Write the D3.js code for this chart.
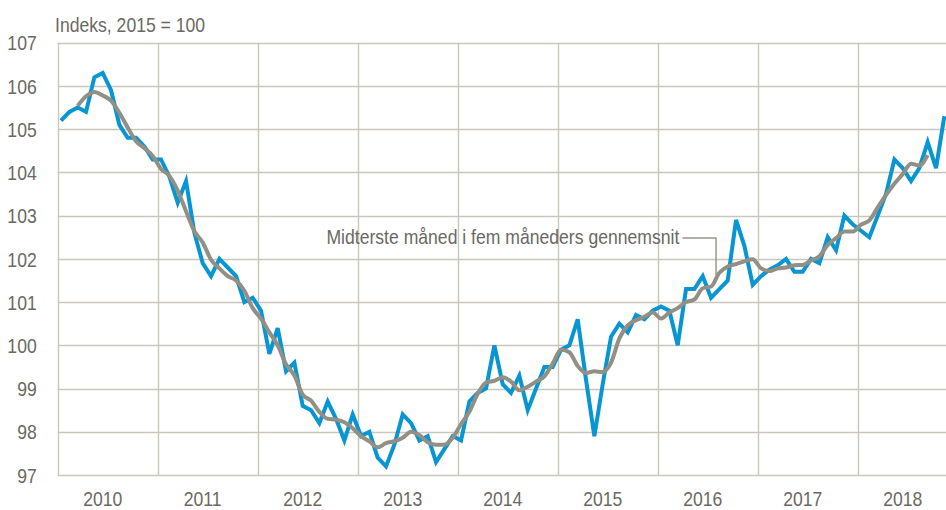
<!DOCTYPE html>
<html><head><meta charset="utf-8">
<script src="https://cdn.jsdelivr.net/npm/d3@7/dist/d3.min.js"></script>
<style>
html,body{margin:0;padding:0;background:#fff;overflow:hidden;}
svg text{font-family:'Liberation Sans',Arial,sans-serif;fill:#6b695f;}
</style></head><body>
<svg id="c" width="946" height="510"></svg>
<script>
// ---- data ----
const years = ["2010","2011","2012","2013","2014","2015","2016","2017","2018"];
const yTicks = [97,98,99,100,101,102,103,104,105,106,107];
const titleText = "Indeks, 2015 = 100";
const annotationText = "Midterste måned i fem måneders gennemsnit";
// monthly index, Jan 2010 - Nov 2018
const indexValues = [
  105.2,105.4,105.5,105.4,106.2,106.3,105.9,105.1,104.8,104.8,104.6,104.3,
  104.3,103.9,103.3,103.8,102.6,101.9,101.6,102.0,101.8,101.6,101.0,101.1,
  100.8,99.8,100.4,99.4,99.6,98.6,98.5,98.2,98.7,98.3,97.8,98.4,
  97.9,98.0,97.4,97.2,97.7,98.4,98.2,97.8,97.9,97.3,97.6,97.9,
  97.8,98.7,98.9,99.0,100.0,99.1,98.9,99.3,98.5,99.0,99.5,99.5,
  99.9,100.0,100.6,99.2,97.9,99.1,100.2,100.5,100.3,100.7,100.6,100.8,
  100.9,100.8,100.0,101.3,101.3,101.6,101.1,101.3,101.5,102.9,102.3,101.4,
  101.6,101.75,101.85,102.0,101.7,101.7,102.0,101.9,102.5,102.2,103.0,102.8,
  102.65,102.5,103.0,103.5,104.3,104.1,103.8,104.1,104.7,104.1,105.3
];
// five-month centred average, Mar 2010 - Sep 2018
const avgStart = 2;
const avgValues = [
  105.54,105.76,105.86,105.78,105.66,105.38,105.04,104.72,104.56,104.38,
  104.08,103.92,103.58,103.10,102.64,102.38,101.98,101.78,101.60,101.50,101.26,100.86,
  100.62,100.30,100.00,99.56,99.30,98.86,98.72,98.46,98.30,98.28,98.22,98.08,
  97.90,97.78,97.64,97.74,97.78,97.86,98.00,97.92,97.76,97.70,97.70,97.86,
  98.18,98.46,98.88,99.14,99.18,99.26,99.16,98.96,99.04,99.16,99.28,99.58,
  99.90,99.84,99.52,99.36,99.40,99.38,99.60,100.16,100.46,100.58,100.66,100.76,
  100.62,100.76,100.86,101.00,101.06,101.32,101.36,101.68,101.82,101.88,101.94,101.99,
  101.78,101.72,101.78,101.80,101.85,101.86,101.96,102.06,102.32,102.48,102.63,102.63,
  102.79,102.89,103.19,103.48,103.74,103.96,104.20,104.16,104.40
];
// annotation anchor (in data space: month position, index value)
const annText = {m: 74.6, v: 102.48};
const annElbow = {m: 79, v: 102.48};
const annEnd = {m: 79, v: 101.63};

// ---- chart ----
const W = 946, H = 510;
const FS = 20, SX = 0.88;
const svg = d3.select("#c");
const x = d3.scaleLinear().domain([0, 108]).range([57.7, 957.7]);
const y = d3.scaleLinear().domain([97, 107]).range([475, 42.7]);
const px = i => x(i + 0.4);

// condensed text: place at (tx,ty) and squeeze horizontally
function squeeze(sel, tx, ty) {
  sel.attr("transform", (d, i, n) => `translate(${tx(d, i)},${ty(d, i)}) scale(${SX},1)`)
     .attr("x", 0).attr("y", 0).attr("font-size", FS);
}

const gridColor = "#c9c6bb";
const grid = svg.append("g");
grid.selectAll("line.h").data(yTicks).join("line")
  .attr("x1", x(0)).attr("x2", W)
  .attr("y1", d => Math.round(y(d)) + 0.5).attr("y2", d => Math.round(y(d)) + 0.5)
  .attr("stroke", gridColor).attr("stroke-width", 1.4);
grid.selectAll("line.v").data(years.map((d, k) => k * 12)).join("line")
  .attr("x1", d => Math.round(x(d)) + 0.5).attr("x2", d => Math.round(x(d)) + 0.5)
  .attr("y1", y(107)).attr("y2", y(97))
  .attr("stroke", gridColor).attr("stroke-width", 1.4);

// y axis labels
const yAxis = d3.axisLeft(y).tickValues(yTicks).tickSize(0).tickPadding(21).tickFormat(d3.format("d"));
const gy = svg.append("g").attr("transform", `translate(${x(0)},0)`).call(yAxis);
gy.select(".domain").remove();
gy.selectAll(".tick text")
  .attr("fill", "#6b695f").attr("dy", "0.36em")
  .attr("x", -21 / SX).attr("transform", `scale(${SX},1)`)
  .attr("font-size", FS)
  .style("font-family", "'Liberation Sans',Arial,sans-serif");

// x labels (centred on June of each year)
svg.append("g").selectAll("text").data(years).join("text")
  .attr("text-anchor", "middle").text(d => d)
  .call(squeeze, (d, k) => px(5 + 12 * k), () => 506);

// title
svg.append("text").datum(titleText).text(d => d)
  .call(squeeze, () => 55, () => 32);

// lines
const line = d3.line().x(d => px(d.i)).y(d => y(d.v)).curve(d3.curveLinear);
const idxData = indexValues.map((v, i) => ({i, v}));
const avgData = avgValues.map((v, k) => ({i: k + avgStart, v}));
svg.append("path").datum(idxData).attr("d", line)
  .attr("fill", "none").attr("stroke", "#0795d4").attr("stroke-width", 4)
  .attr("stroke-linejoin", "miter").attr("stroke-linecap", "butt");
svg.append("path").datum(avgData).attr("d", d3.line().x(d => px(d.i)).y(d => y(d.v)).curve(d3.curveMonotoneX))
  .attr("fill", "none").attr("stroke", "#928f84").attr("stroke-width", 4)
  .attr("stroke-linejoin", "round");

// annotation
svg.append("path")
  .attr("d", `M${x(annText.m) + 3},${y(annElbow.v)}H${x(annElbow.m)}V${y(annEnd.v)}`)
  .attr("fill", "none").attr("stroke", "#9a978c").attr("stroke-width", 1.5);
svg.append("text").datum(annotationText).text(d => d)
  .attr("text-anchor", "end")
  .call(squeeze, () => x(annText.m), () => y(annText.v) + 6);
</script>
</body></html>
